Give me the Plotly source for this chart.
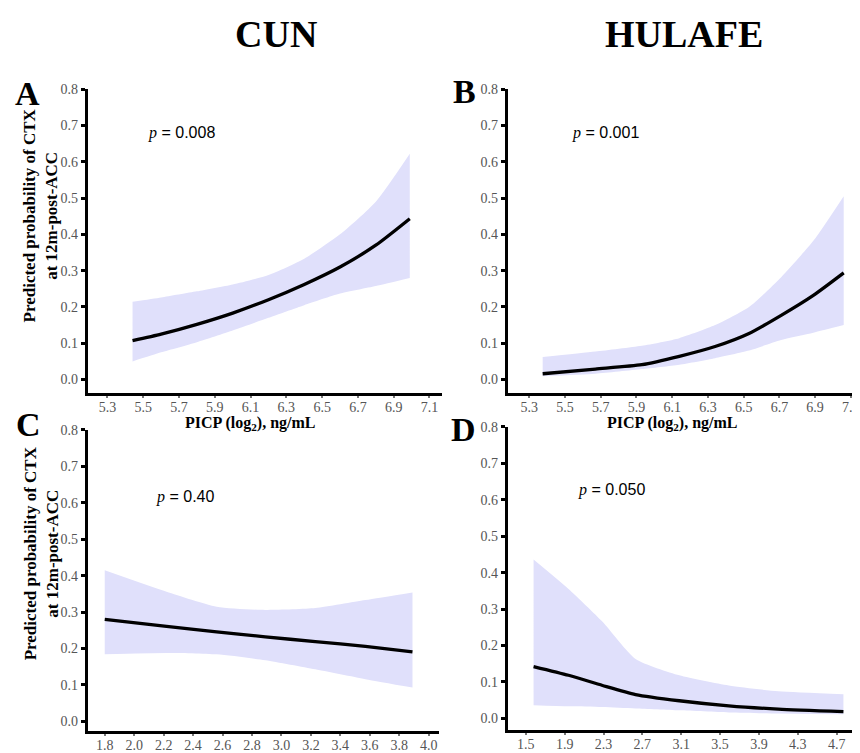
import plotly.graph_objects as go

# ---------------- data ----------------
a_x = [5.44, 5.6, 5.8, 6.0, 6.2, 6.4, 6.6, 6.8, 6.99]
a_fit = [0.107, 0.125, 0.152, 0.183, 0.220, 0.262, 0.310, 0.370, 0.443]
a_hi = [0.214, 0.226, 0.243, 0.262, 0.288, 0.333, 0.400, 0.490, 0.622]
a_lo = [0.050, 0.075, 0.103, 0.135, 0.170, 0.205, 0.237, 0.258, 0.280]

b_x = [5.375, 5.67, 5.93, 6.14, 6.34, 6.53, 6.71, 6.89, 7.06]
b_fit = [0.016, 0.029, 0.041, 0.064, 0.091, 0.127, 0.177, 0.232, 0.294]
b_hi = [0.062, 0.077, 0.093, 0.114, 0.150, 0.200, 0.282, 0.382, 0.505]
b_lo = [0.009, 0.016, 0.029, 0.041, 0.059, 0.080, 0.109, 0.129, 0.150]

c_x = [1.8, 2.22, 2.56, 2.89, 3.23, 3.57, 3.89]
c_fit = [0.280, 0.261, 0.246, 0.232, 0.219, 0.206, 0.191]
c_hi = [0.415, 0.356, 0.315, 0.306, 0.311, 0.333, 0.354]
c_lo = [0.184, 0.188, 0.184, 0.168, 0.143, 0.116, 0.093]

d_x = [1.58, 1.94, 2.29, 2.63, 3.08, 3.59, 4.10, 4.77]
d_fit = [0.142, 0.118, 0.090, 0.065, 0.048, 0.034, 0.025, 0.018]
d_hi = [0.436, 0.355, 0.265, 0.163, 0.118, 0.090, 0.074, 0.066]
d_lo = [0.036, 0.033, 0.031, 0.027, 0.022, 0.016, 0.013, 0.011]

ab_ticks = [5.3, 5.5, 5.7, 5.9, 6.1, 6.3, 6.5, 6.7, 6.9, 7.1]
c_ticks = [1.8, 2.0, 2.2, 2.4, 2.6, 2.8, 3.0, 3.2, 3.4, 3.6, 3.8, 4.0]
d_ticks = [1.5, 1.9, 2.3, 2.7, 3.1, 3.5, 3.9, 4.3, 4.7]
y_ticks = [0.0, 0.1, 0.2, 0.3, 0.4, 0.5, 0.6, 0.7, 0.8]

p_values = ["0.008", "0.001", "0.40", "0.050"]
panel_letters = ["A", "B", "C", "D"]
col_titles = ["CUN", "HULAFE"]

# ---------------- figure ----------------
OFF = 8                      # page body margin
W, H = 860 - OFF, 753 - OFF
fig = go.Figure()

SERIF = "Liberation Serif"
FILL = "rgba(224,224,251,1)"


def px(v):
    return (v - OFF) / W


def py(v):
    return 1 - (v - OFF) / H


panels = [
    dict(x=a_x, fit=a_fit, hi=a_hi, lo=a_lo, xa="x", ya="y", ticks=ab_ticks,
         dom_x=(88, 443), dom_y=(83, 391), xr=(5.19, 7.17), yr=(-0.038, 0.8)),
    dict(x=b_x, fit=b_fit, hi=b_hi, lo=b_lo, xa="x2", ya="y2", ticks=ab_ticks,
         dom_x=(509, 860), dom_y=(83, 391), xr=(5.18, 7.14), yr=(-0.038, 0.8)),
    dict(x=c_x, fit=c_fit, hi=c_hi, lo=c_lo, xa="x3", ya="y3", ticks=c_ticks,
         dom_x=(88, 440), dom_y=(428, 733), xr=(1.685, 4.07), yr=(-0.027, 0.8)),
    dict(x=d_x, fit=d_fit, hi=d_hi, lo=d_lo, xa="x4", ya="y4", ticks=d_ticks,
         dom_x=(509, 860), dom_y=(425, 732), xr=(1.315, 4.92), yr=(-0.033, 0.8)),
]

layout = {}
for i, p in enumerate(panels):
    # ribbon: lower edge then upper edge filled to it
    fig.add_trace(go.Scatter(x=p["x"], y=p["lo"], mode="lines",
                             line=dict(width=0, shape="spline", smoothing=0.6),
                             hoverinfo="skip", showlegend=False,
                             xaxis=p["xa"], yaxis=p["ya"]))
    fig.add_trace(go.Scatter(x=p["x"], y=p["hi"], mode="lines", fill="tonexty",
                             fillcolor=FILL, line=dict(width=0, shape="spline", smoothing=0.6),
                             hoverinfo="skip", showlegend=False,
                             xaxis=p["xa"], yaxis=p["ya"]))
    fig.add_trace(go.Scatter(x=p["x"], y=p["fit"], mode="lines",
                             line=dict(color="black", width=3.3, shape="spline", smoothing=0.6),
                             showlegend=False, xaxis=p["xa"], yaxis=p["ya"]))
    suffix = "" if i == 0 else str(i + 1)
    x0, x1 = p["dom_x"]
    y0, y1 = p["dom_y"]
    layout["xaxis" + suffix] = dict(
        domain=[px(x0), min(1.0, px(x1))], range=list(p["xr"]), anchor="y" + suffix,
        tickvals=p["ticks"], ticktext=[f"{t:.1f}" for t in p["ticks"]],
        showgrid=False, zeroline=False, showline=True, linecolor="black", linewidth=3,
        ticks="outside", ticklen=2, tickwidth=1.5, tickcolor="#777",
        ticklabelstandoff=-3, ticklabeloverflow="allow",
        tickfont=dict(family=SERIF, size=14, color="#555"))
    layout["yaxis" + suffix] = dict(
        domain=[py(y1), py(y0)], range=list(p["yr"]), anchor="x" + suffix,
        tickvals=y_ticks, ticktext=[f"{t:.1f}" for t in y_ticks],
        showgrid=False, zeroline=False, showline=True, linecolor="black", linewidth=3,
        ticks="outside", ticklen=4, tickwidth=2.5, tickcolor="black",
        ticklabeloverflow="allow",
        tickfont=dict(family=SERIF, size=14, color="#555"))

fig.update_layout(**layout)

ann = []
# column titles
for txt, cx in zip(col_titles, [277, 686]):
    ann.append(dict(text=f"<b>{txt}</b>", x=px(cx), y=py(27), xref="paper", yref="paper",
                    showarrow=False, font=dict(family=SERIF, size=38, color="black"),
                    xanchor="center", yanchor="middle"))
# panel letters
for txt, (cx, cy) in zip(panel_letters, [(28, 87), (466, 85), (29, 423), (465, 428)]):
    ann.append(dict(text=f"<b>{txt}</b>", x=px(cx), y=py(cy), xref="paper", yref="paper",
                    showarrow=False, font=dict(family=SERIF, size=34, color="black"),
                    xanchor="center", yanchor="middle"))
# y-axis titles
for cy in [211, 553]:
    ann.append(dict(text="<b>Predicted probability of CTX<br>at 12m-post-ACC</b>",
                    x=px(41), y=py(cy), xref="paper", yref="paper", textangle=-90,
                    showarrow=False, font=dict(family=SERIF, size=17, color="black"),
                    xanchor="center", yanchor="middle"))
# x-axis titles
for cx in [251, 674]:
    ann.append(dict(text="<b>PICP (log<sub>2</sub>), ng/mL</b>", x=px(cx), y=py(422),
                    xref="paper", yref="paper", showarrow=False,
                    font=dict(family=SERIF, size=16, color="black"),
                    xanchor="center", yanchor="middle"))
# p-values
for pv, (lx, cy) in zip(p_values, [(146, 127), (571, 127), (154, 496), (577, 489)]):
    ann.append(dict(text=f"<span style='font-family:Liberation Serif'><i>p</i></span> = {pv}",
                    x=px(lx), y=py(cy), xref="paper", yref="paper", showarrow=False,
                    font=dict(family="Liberation Sans", size=16, color="black"),
                    xanchor="left", yanchor="middle"))

fig.update_layout(width=W, height=H, margin=dict(l=0, r=0, t=0, b=0),
                  paper_bgcolor="white", plot_bgcolor="white", annotations=ann,
                  showlegend=False)

fig.write_html("out.html")
